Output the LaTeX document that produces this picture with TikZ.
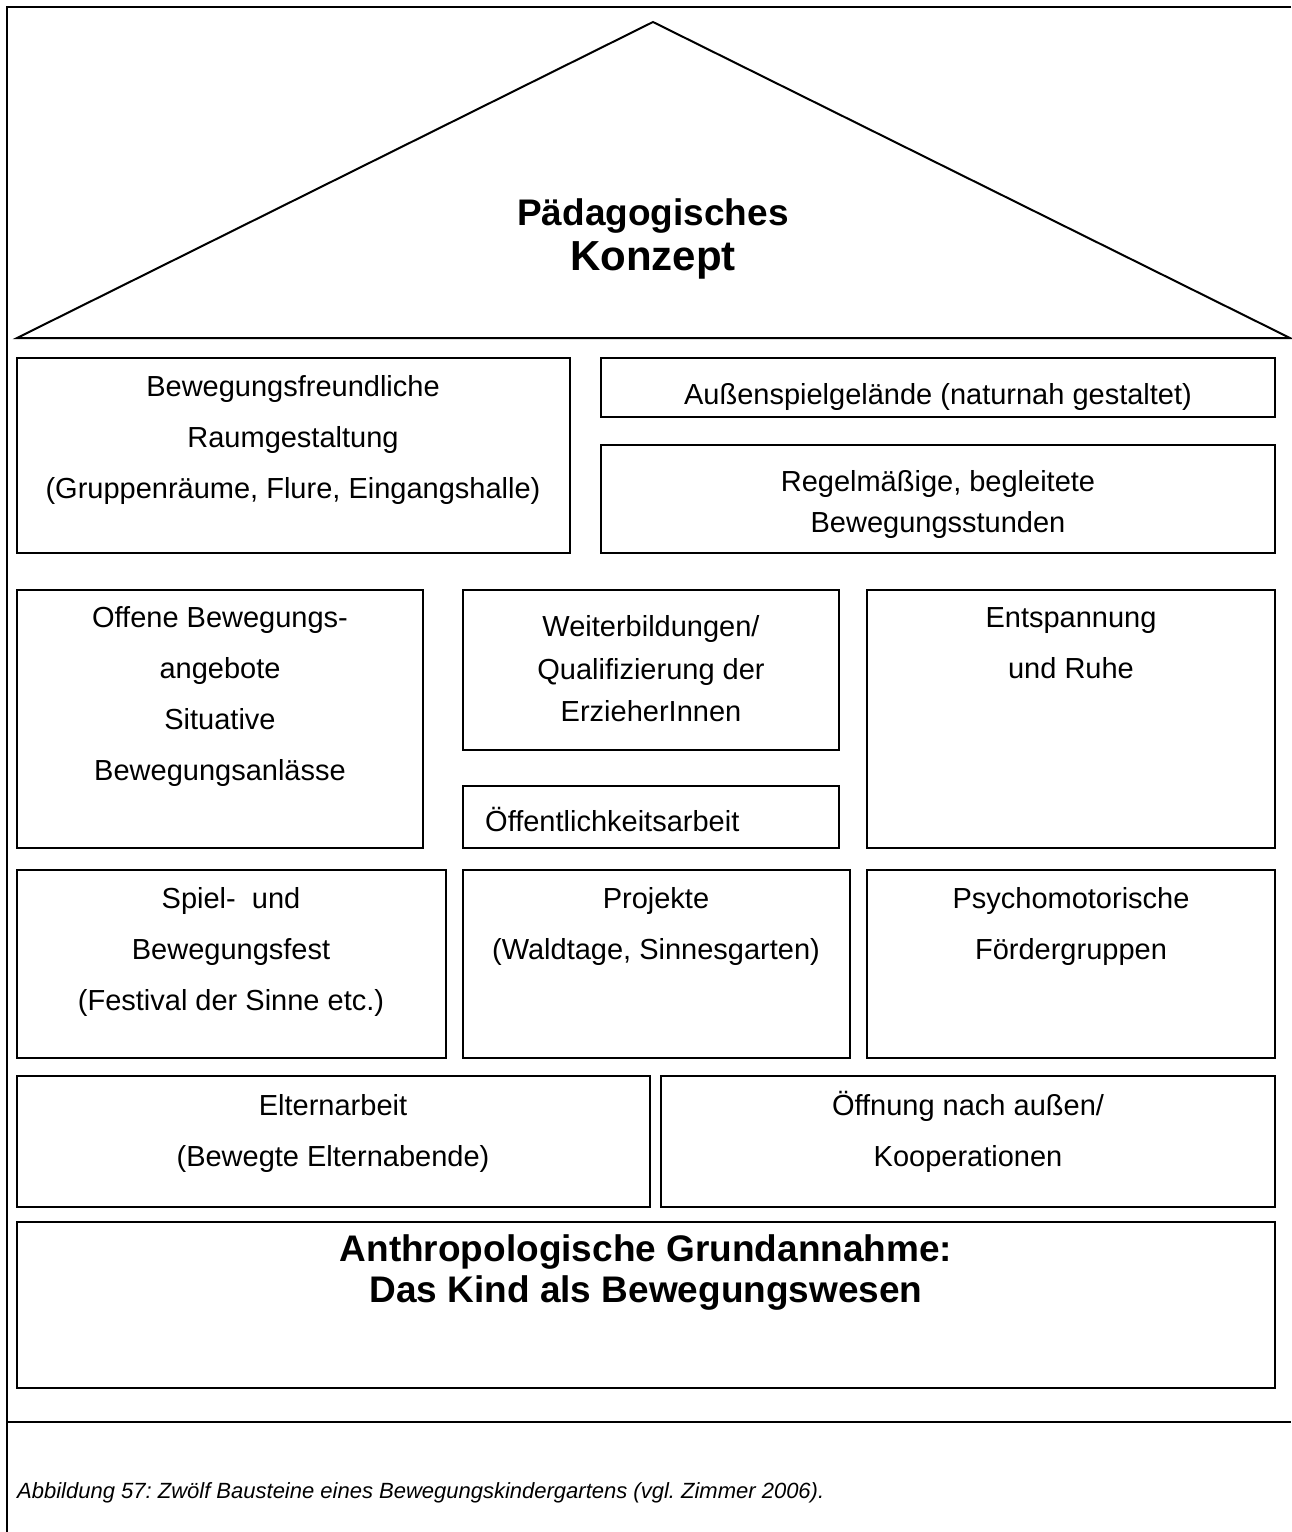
\documentclass[tikz,border=0pt]{standalone}
\usepackage{fontspec}
\setmainfont{Liberation Sans}
\frenchspacing

\begin{document}
\begin{tikzpicture}[x=1pt, y=-1pt,
  brick/.style={draw, line width=1.6pt},
  txt/.style={align=center, anchor=north, inner sep=0pt,
    font=\fontsize{29}{51}\selectfont},
  line/.style={anchor=base, inner sep=0pt, font=\fontsize{29}{51}\selectfont}]
\useasboundingbox (0,0) rectangle (1291,1532);
% frame
\draw[line width=2.8pt] (1291,7) -- (7,7) -- (7,1532);
\draw[line width=2.8pt] (7,1422) -- (1291,1422);
% roof
\coordinate (eaveL) at (17,338);
\coordinate (ridge) at (653,22);
\coordinate (eaveR) at (1290,338);
\draw[line width=2pt] (eaveL) -- (ridge) -- (eaveR) -- cycle;
\node[line, font=\bfseries\fontsize{37}{41}\selectfont] (paed) at (653,225) {Pädagogisches};
\node[line, font=\bfseries\fontsize{42}{45}\selectfont] (konz) at (653,270) {Konzept};
% bricks
\foreach \xa/\ya/\xb/\yb in {17/358/570/553, 601/358/1275/417, 601/445/1275/553,
    17/590/423/848, 463/590/839/750, 463/786/839/848, 867/590/1275/848,
    17/870/446/1058, 463/870/850/1058, 867/870/1275/1058,
    17/1076/650/1207, 661/1076/1275/1207, 17/1222/1275/1388}
  \draw[brick] (\xa,\ya) rectangle (\xb,\yb);
% row 1
\node[txt] (raum) at (293,375.3) {Bewegungsfreundliche\\Raumgestaltung\\(Gruppenräume, Flure, Eingangshalle)};
\node[line] (aussen) at (938,404) {Außenspielgelände (naturnah gestaltet)};
\node[txt, font=\fontsize{29}{41}\selectfont] (stunden) at (938,470.3) {Regelmäßige, begleitete\\Bewegungsstunden};
% row 2
\node[txt] (offen) at (220,606.3) {Offene Bewegungs-\\angebote\\Situative\\Bewegungsanlässe};
\node[txt, font=\fontsize{29}{42.5}\selectfont] (weiter) at (651,615.3) {Weiterbildungen/\\Qualifizierung der\\ErzieherInnen};
\node[line, anchor=base west] (oeff) at (485,831) {Öffentlichkeitsarbeit};
\node[txt] (ruhe) at (1071,607) {Entspannung\\und Ruhe};
% row 3
\node[txt] (fest) at (231,887.3) {Spiel-~~und\\Bewegungsfest\\(Festival der Sinne etc.)};
\node[txt] (proj) at (656,887.3) {Projekte\\(Waldtage, Sinnesgarten)};
\node[txt] (psycho) at (1071,887.3) {Psychomotorische\\Fördergruppen};
% row 4
\node[txt] (eltern) at (333,1094.3) {Elternarbeit\\(Bewegte Elternabende)};
\node[txt] (koop) at (968,1091.3) {Öffnung nach außen/\\Kooperationen};
% foundation
\node[txt, font=\bfseries\fontsize{37}{41}\selectfont] (anthro) at (646,1234.3) {Anthropologische Grundannahme:\\Das Kind als Bewegungswesen};
% caption
\node[anchor=base west, inner sep=0pt, font=\itshape\fontsize{22}{26}\selectfont] (cap) at (17,1498)
  {Abbildung 57: Zwölf Bausteine eines Bewegungskindergartens (vgl. Zimmer 2006).};
\end{tikzpicture}
\end{document}
